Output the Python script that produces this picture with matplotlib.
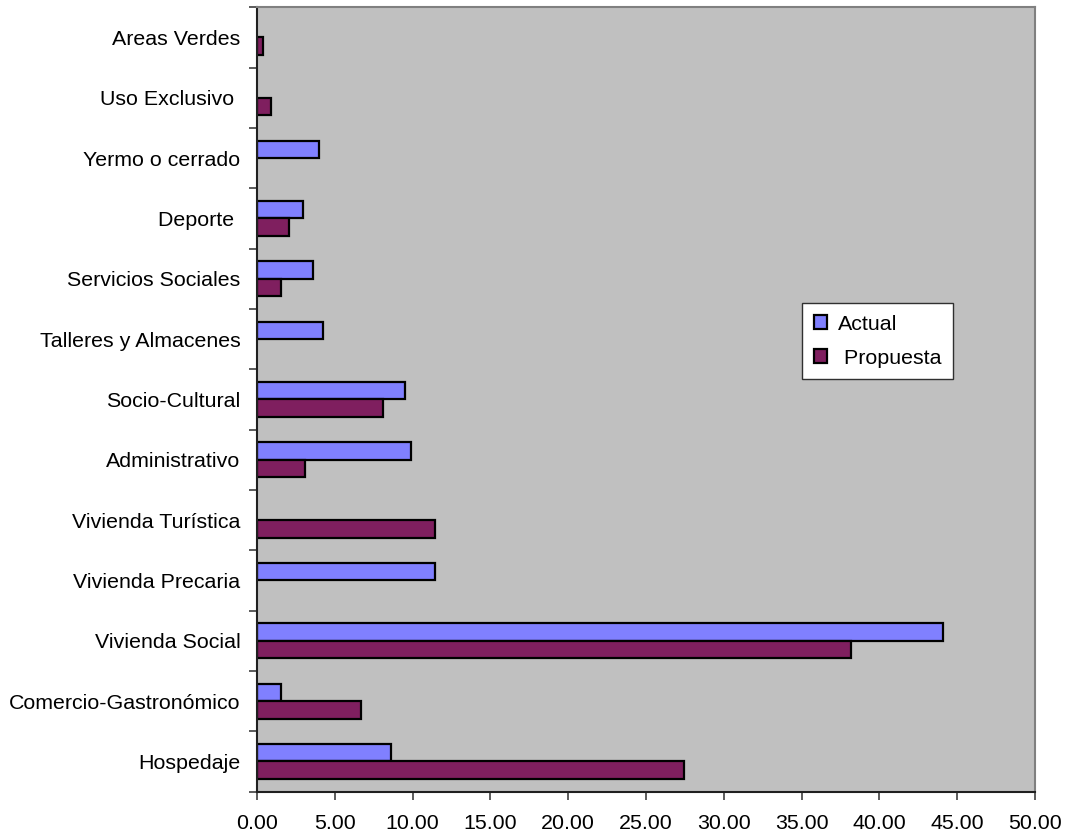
import matplotlib
matplotlib.use("Agg")
import matplotlib.pyplot as plt
import numpy as np

plt.rcParams['font.family'] = ['Liberation Sans', 'DejaVu Sans']

# land use categories, bottom to top
categorias = ['Hospedaje', 'Comercio-Gastronómico', 'Vivienda Social',
              'Vivienda Precaria', 'Vivienda Turística', 'Administrativo',
              'Socio-Cultural', 'Talleres y Almacenes', 'Servicios Sociales',
              'Deporte ', 'Yermo o cerrado', 'Uso Exclusivo ', 'Areas Verdes']
actual = [8.6, 1.55, 44.1, 11.43, None, 9.9, 9.5, 4.25, 3.6, 2.95, 3.97, None, None]
propuesta = [27.45, 6.7, 38.2, None, 11.45, 3.1, 8.08, None, 1.55, 2.05, None, 0.9, 0.38]
xticks = np.arange(0, 55, 5)

fig = plt.figure(figsize=(10.65, 8.35), dpi=100)
ax = fig.add_axes([0.2413, 0.0519, 0.7305, 0.9394])
ax.set_facecolor('#C0C0C0')

h = 0.29
y = np.arange(len(categorias))
ya = [i for i, v in zip(y, actual) if v is not None]
va = [v for v in actual if v is not None]
yp = [i for i, v in zip(y, propuesta) if v is not None]
vp = [v for v in propuesta if v is not None]

ax.barh(np.array(ya) + h / 2, va, height=h, color='#8080FF',
        edgecolor='black', linewidth=1.6, label='Actual')
ax.barh(np.array(yp) - h / 2, vp, height=h, color='#7F1F5F',
        edgecolor='black', linewidth=1.6, label=' Propuesta')

ax.set_xlim(0, 50)
ax.set_ylim(-0.5, len(categorias) - 0.5)
ax.set_xticks(xticks)
ax.set_xticklabels(['%.2f' % v for v in xticks])

# boundary ticks between categories, labels at centres
ax.set_yticks(np.arange(-0.5, len(categorias), 1))
ax.set_yticklabels([])
ax.set_yticks(y, minor=True)
ax.set_yticklabels(categorias, minor=True)
ax.tick_params(axis='y', which='minor', length=0, pad=12, labelsize=15.4)
ax.tick_params(axis='y', which='major', length=6, width=1.2, color='#404040')
ax.tick_params(axis='x', length=6, width=1.2, color='#404040', pad=10, labelsize=15.4)

for s in ['top', 'right']:
    ax.spines[s].set_color('#808080')
    ax.spines[s].set_linewidth(1.5)
for s in ['left', 'bottom']:
    ax.spines[s].set_color('#202020')
    ax.spines[s].set_linewidth(1.5)

leg = ax.legend(loc='upper left', bbox_to_anchor=(0.701, 0.623), fontsize=15.4,
                fancybox=False, framealpha=1, edgecolor='#303030',
                handlelength=0.6, handleheight=0.6, handletextpad=0.5,
                borderpad=0.55, labelspacing=0.7, borderaxespad=0)
leg.get_frame().set_linewidth(1.0)

fig.savefig('out.png', dpi=100)
